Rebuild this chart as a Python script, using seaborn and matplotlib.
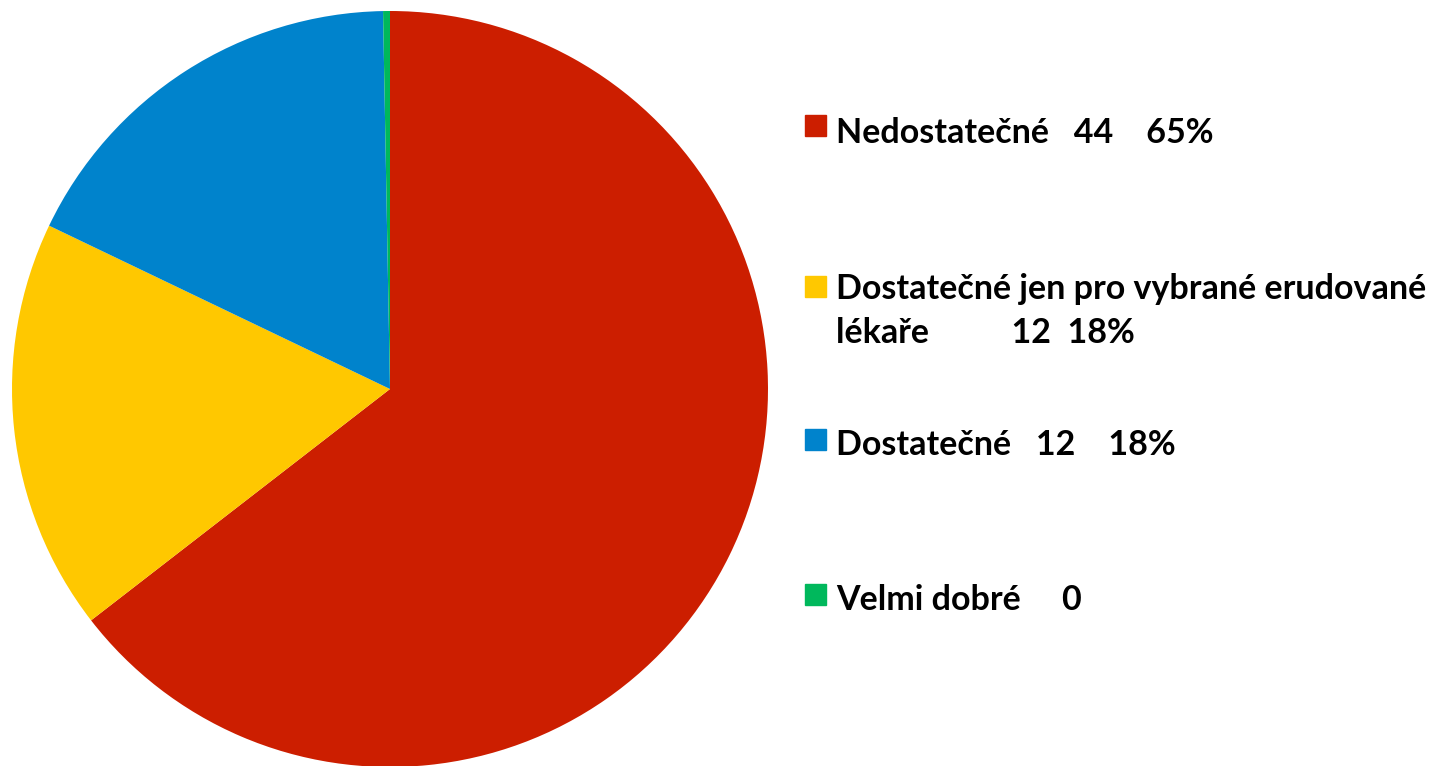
import seaborn as sns
import matplotlib.pyplot as plt
from matplotlib.patches import Rectangle

# data
categories = ['Nedostatečné', 'Dostatečné jen pro vybrané erudované lékaře', 'Dostatečné', 'Velmi dobré']
counts = [44, 12, 12, 0]
slice_values = [44, 12, 12, 0.2]   # the empty category still shows as a thin sliver
legend_labels = [
    'Nedostatečné   44    65%',
    'Dostatečné jen pro vybrané erudované\nlékaře          12  18%',
    'Dostatečné   12    18%',
    'Velmi dobré     0',
]
colors = ['#CC1E00', '#FFC800', '#0083CC', '#00B85C']

sns.set_theme(style='white')
plt.rcParams['font.family'] = ['Lato', 'DejaVu Sans']

W, H = 1445, 766
fig = plt.figure(figsize=(W / 100, H / 100), dpi=100)
ax = fig.add_axes([12 / W, -1 / H, 756 / W, 756 / H])
ax.pie(slice_values, colors=colors, startangle=90, counterclock=False,
       wedgeprops=dict(linewidth=0))
ax.set_xlim(-1, 1)
ax.set_ylim(-1, 1)
ax.set_aspect('equal')
ax.axis('off')

# legend, laid out like the original
baselines = [143, 299, 455, 610]
square_tops = [115, 276, 429, 584]
line_gap = 44
for lab, col, base, top in zip(legend_labels, colors, baselines, square_tops):
    fig.patches.append(Rectangle((805 / W, 1 - (top + 21) / H), 21 / W, 21 / H,
                                 transform=fig.transFigure, color=col))
    for i, line in enumerate(lab.split('\n')):
        fig.text(836 / W, 1 - (base + i * line_gap) / H, line, fontsize=24.5,
                 fontweight='bold', va='baseline', ha='left', color='black')

fig.savefig('out.png', dpi=100, facecolor='white')
